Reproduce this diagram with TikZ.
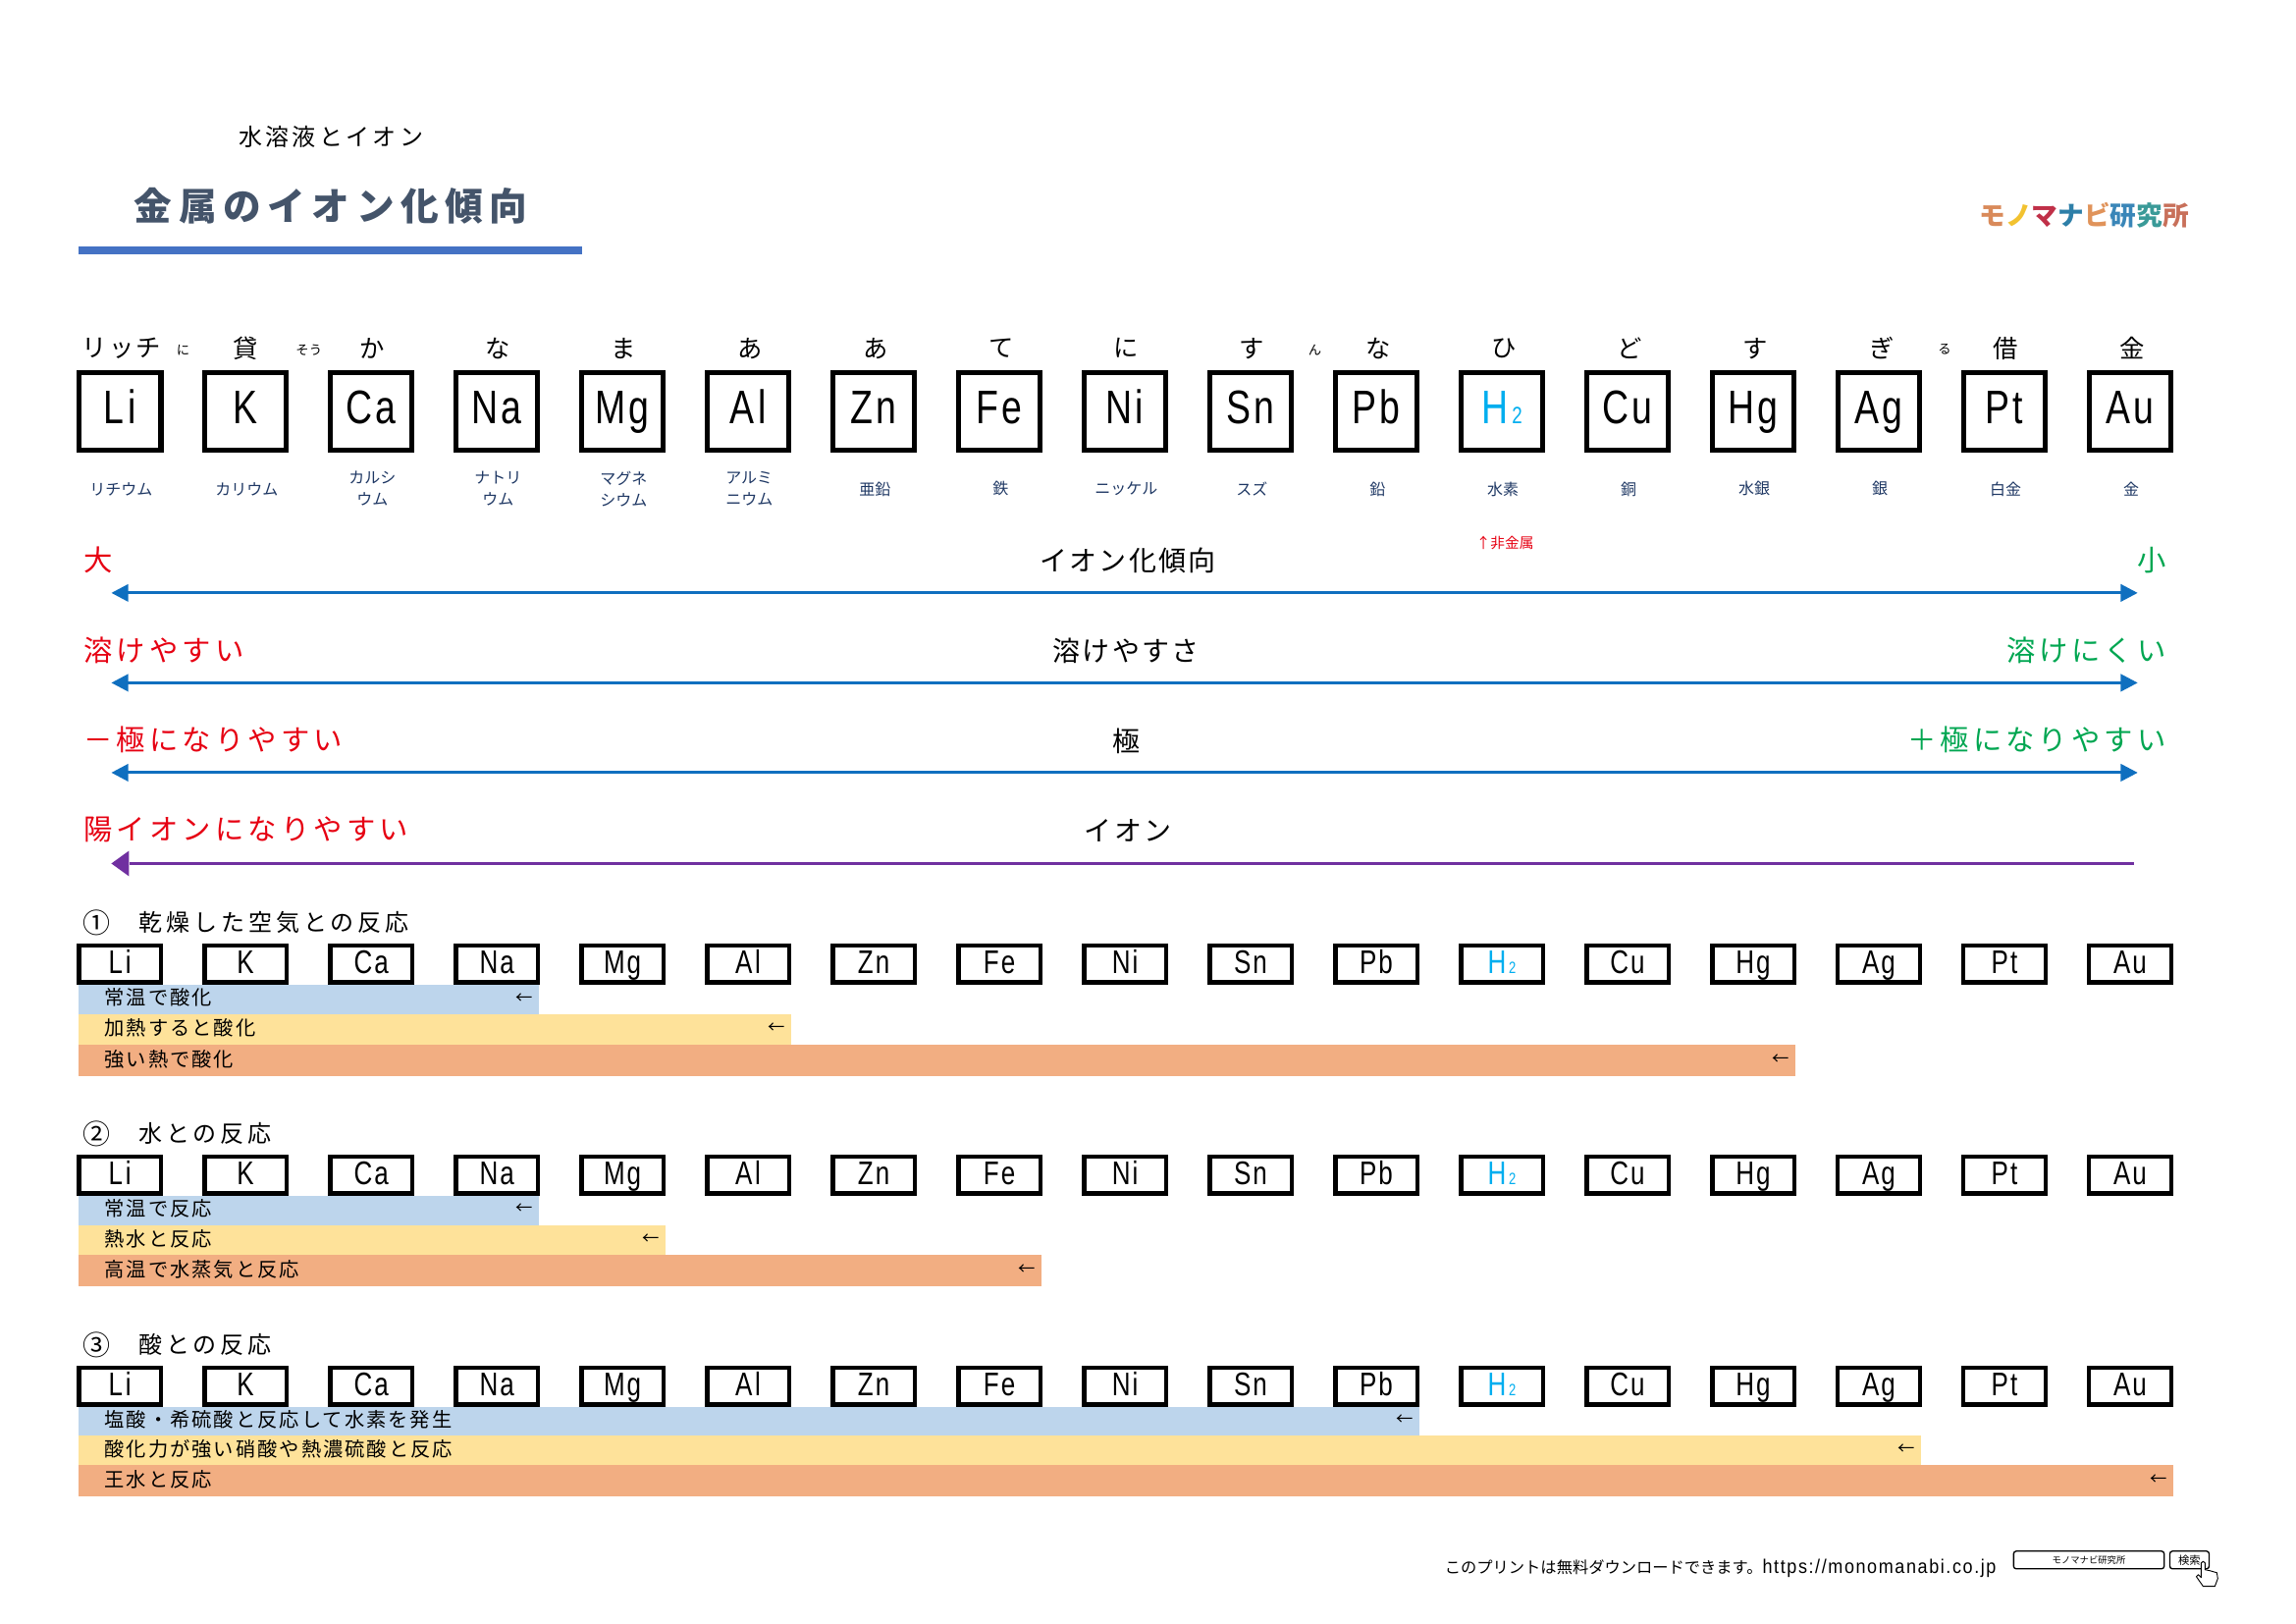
\documentclass[tikz,border=0pt]{standalone}
\usepackage{fontspec}
\usepackage{graphicx}
\usetikzlibrary{arrows.meta}
\setmainfont{Noto Sans CJK JP}
\newfontfamily\jp{Noto Sans CJK JP}
\newfontfamily\sym[FakeStretch=0.78]{Liberation Sans}
\newfontfamily\latn[FakeStretch=0.9]{Liberation Sans}
\newcommand\JT[3]{{\fontsize{#1}{#1}\selectfont\jp\addfontfeature{LetterSpace=#2}#3}}
\newcommand\SY[2]{{\fontsize{#1}{#1}\selectfont\sym\addfontfeature{LetterSpace=6}#2}}
\newcommand\subtwo{\kern.08em\scalebox{.5}{2}}
\newcommand\LiK{L\kern.08em i}
\newcommand\AlK{A\kern.08em l}
\definecolor{cred}{HTML}{E60012}
\definecolor{cgreen}{HTML}{00A651}
\definecolor{cyanH}{HTML}{00AEEF}
\definecolor{arrblue}{HTML}{0F6FBF}
\definecolor{arrpurple}{HTML}{7030A0}
\definecolor{titlecol}{HTML}{44546A}
\definecolor{rulecol}{HTML}{4472C4}
\definecolor{namecol}{HTML}{1F3864}
\definecolor{barA}{HTML}{BDD5EC}
\definecolor{barB}{HTML}{FEE29A}
\definecolor{barC}{HTML}{F2AE82}
\tikzset{
  txt/.style={inner sep=0pt,outer sep=0pt},
  elembox/.style={draw=black,line width=4pt,fill=white,minimum width=62.5pt,minimum height=59pt,inner sep=0pt,text height=27pt,text depth=8pt},
  minibox/.style={draw=black,line width=3.2pt,fill=white,minimum width=62.5pt,minimum height=28pt,inner sep=0pt,text height=19pt,text depth=4.4pt},
  scale arrow/.style={line width=2.3pt,{Triangle[length=13pt,width=13pt]}-{Triangle[length=13pt,width=13pt]}},
  plain arrow/.style={line width=2.3pt},
}
\begin{document}
\begin{tikzpicture}[x=0.74615pt,y=-0.74615pt]
\useasboundingbox (0,0) rectangle (2351.1,1662.5);
% header
\node[txt] (subtitle) at (339,140) {\JT{18}{14}{水溶液とイオン}};
\node[txt,text=titlecol] (title) at (339,211) {\JT{29}{17}{\bfseries 金属のイオン化傾向}};
\fill[rulecol] (80,252) rectangle (596,260);
% logo
\node[txt] (logo) at (2134,220) {\fontsize{20}{20}\selectfont\jp\bfseries\addfontfeature{LetterSpace=8}\textcolor[HTML]{D98A5A}{モ}\textcolor[HTML]{F2C230}{ノ}\textcolor[HTML]{C03048}{マ}\textcolor[HTML]{2E7FA8}{ナ}\textcolor[HTML]{E0935A}{ビ}\textcolor[HTML]{3A86B8}{研}\textcolor[HTML]{3A9A98}{究}\textcolor[HTML]{C8705A}{所}};
% mnemonic
\foreach \t/\xx in {リッチ/83,貸/168,か/254,な/340,ま/426,あ/512,あ/598,て/684,に/769,す/855,な/941,ひ/1027,ど/1113,す/1199,ぎ/1285,借/1370,金/1456}
  \node[txt] at ({\xx*1.4994},356.5) {\JT{19}{8}{\t}};
\foreach \t/\xx in {に/125,そう/211,ん/898,る/1328}
  \node[txt] at ({\xx*1.4994},358) {\JT{10}{0}{\t}};
% main boxes
\foreach \s/\c [count=\i] in {\LiK/black,K/black,Ca/black,Na/black,Mg/black,\AlK/black,Zn/black,Fe/black,Ni/black,Sn/black,Pb/black,H\subtwo/cyanH,Cu/black,Hg/black,Ag/black,Pt/black,Au/black}
  \node[elembox,text=\c] (b\i) at ({122.8+128.65*(\i-1)},421) {\SY{36}{\s}};
% names
\foreach \t [count=\i] in {リチウム,カリウム,{カルシ\\ウム},{ナトリ\\ウム},{マグネ\\シウム},{アルミ\\ニウム},亜鉛,鉄,ニッケル,スズ,鉛,水素,銅,水銀,銀,白金,金}
  \node[txt,text=namecol,align=center,font=\fontsize{12}{16.5}\selectfont] (n\i) at ({124+128.65*(\i-1)},500.5) {\t};
\node[txt,text=cred] (nonmetal) at (1541,556) {\fontsize{11}{11}\selectfont ↑非金属};
% scale rows
\node[txt,text=cred,anchor=west] (l1) at (86,573.5) {\JT{22}{14}{大}};
\node[txt] (c1) at (1155,573.5) {\JT{21}{8}{イオン化傾向}};
\node[txt,text=cgreen,anchor=east] (r1) at (2218,573.5) {\JT{22}{14}{小}};
\coordinate (a1l) at (114,607); \coordinate (a1r) at (2189,607);
\draw[scale arrow,arrblue] (a1l) -- (a1r);
\node[txt,text=cred,anchor=west] (l2) at (86,665.5) {\JT{22}{14}{溶けやすい}};
\node[txt] (c2) at (1153,666.5) {\JT{21}{8}{溶けやすさ}};
\node[txt,text=cgreen,anchor=east] (r2) at (2218,665.5) {\JT{22}{14}{溶けにくい}};
\coordinate (a2l) at (114,699); \coordinate (a2r) at (2189,699);
\draw[scale arrow,arrblue] (a2l) -- (a2r);
\node[txt,text=cred,anchor=west] (l3) at (86,757) {\JT{22}{14}{－極になりやすい}};
\node[txt] (c3) at (1153,758.5) {\JT{21}{8}{極}};
\node[txt,text=cgreen,anchor=east] (r3) at (2218,757) {\JT{22}{14}{＋極になりやすい}};
\coordinate (a3l) at (114,791); \coordinate (a3r) at (2189,791);
\draw[scale arrow,arrblue] (a3l) -- (a3r);
\node[txt,text=cred,anchor=west] (l4) at (86,849.5) {\JT{22}{14}{陽イオンになりやすい}};
\node[txt] (c4) at (1155,850.5) {\JT{21}{8}{イオン}};
\coordinate (a4l) at (133,884); \coordinate (a4r) at (2185,884);
\draw[plain arrow,arrpurple] (a4r) -- (a4l);
\fill[arrpurple] (a4l) ++(-1,-13) -- ++(-18,13) -- ++(18,13) -- cycle;
% section headings
\node[txt,anchor=west] (h1) at (85,944.5) {\JT{21}{0}{①}};
\node[txt,anchor=west] (t1) at (142,944.5) {\JT{18}{16.5}{乾燥した空気との反応}};
\node[txt,anchor=west] (h2) at (85,1160.5) {\JT{21}{0}{②}};
\node[txt,anchor=west] (t2) at (142,1160.5) {\JT{18}{16.5}{水との反応}};
\node[txt,anchor=west] (h3) at (85,1376.5) {\JT{21}{0}{③}};
\node[txt,anchor=west] (t3) at (142,1376.5) {\JT{18}{16.5}{酸との反応}};
% bars
\foreach \yy/\hh/\ee/\col/\lab [count=\j] in {
  1008/30/552/barA/常温で酸化,
  1038/31/810/barB/加熱すると酸化,
  1069/33/1838/barC/強い熱で酸化,
  1224/30/552/barA/常温で反応,
  1254/31/681/barB/熱水と反応,
  1285/32/1066/barC/高温で水蒸気と反応,
  1440/30/1453/barA/塩酸・希硫酸と反応して水素を発生,
  1470/30/1967/barB/酸化力が強い硝酸や熱濃硫酸と反応,
  1500/32/2225/barC/王水と反応}
{
  \fill[\col] (80,\yy) rectangle (\ee,\yy+\hh);
  \node[txt,anchor=west] (bl\j) at (107,\yy+\hh/2-1.5) {\JT{15.2}{10}{\lab}};
  \node[txt,anchor=east] (ba\j) at (\ee-6,\yy+\hh/2-1) {\fontsize{13}{13}\selectfont\jp ←};
}
% small boxes
\foreach \yc [count=\r] in {987,1203,1419}
  \foreach \s/\c [count=\i] in {\LiK/black,K/black,Ca/black,Na/black,Mg/black,\AlK/black,Zn/black,Fe/black,Ni/black,Sn/black,Pb/black,H\subtwo/cyanH,Cu/black,Hg/black,Ag/black,Pt/black,Au/black}
    \node[minibox,text=\c] (m\r-\i) at ({122.8+128.65*(\i-1)},\yc) {\SY{25}{\s}};
% footer
\node[txt,anchor=east] (foot) at (2044,1605.5) {\fontsize{12.2}{12.2}\selectfont\jp このプリントは無料ダウンロードできます。{\latn\addfontfeature{LetterSpace=8}\fontsize{15}{15}\selectfont https://monomanabi.co.jp}};
\node[draw=black,line width=1pt,rounded corners=2pt,minimum width=115pt,minimum height=13.5pt,inner sep=0pt] (search) at (2139,1597) {\fontsize{7}{7}\selectfont モノマナビ研究所};
\node[draw=black,line width=1pt,rounded corners=2pt,minimum width=30pt,minimum height=13.5pt,inner sep=0pt] (go) at (2242,1597) {\fontsize{8.5}{8.5}\selectfont 検索};
\draw[fill=white,line width=.7pt,line join=round] (2254,1606) -- (2254,1615) -- (2251,1612) -- (2249,1614) -- (2256,1624) -- (2268,1624) -- (2271,1616) -- (2270,1610) -- (2263,1608) -- (2258,1607) -- (2258,1600) .. controls (2257,1598) and (2255,1598) .. (2254,1600) -- cycle;
\end{tikzpicture}
\end{document}
